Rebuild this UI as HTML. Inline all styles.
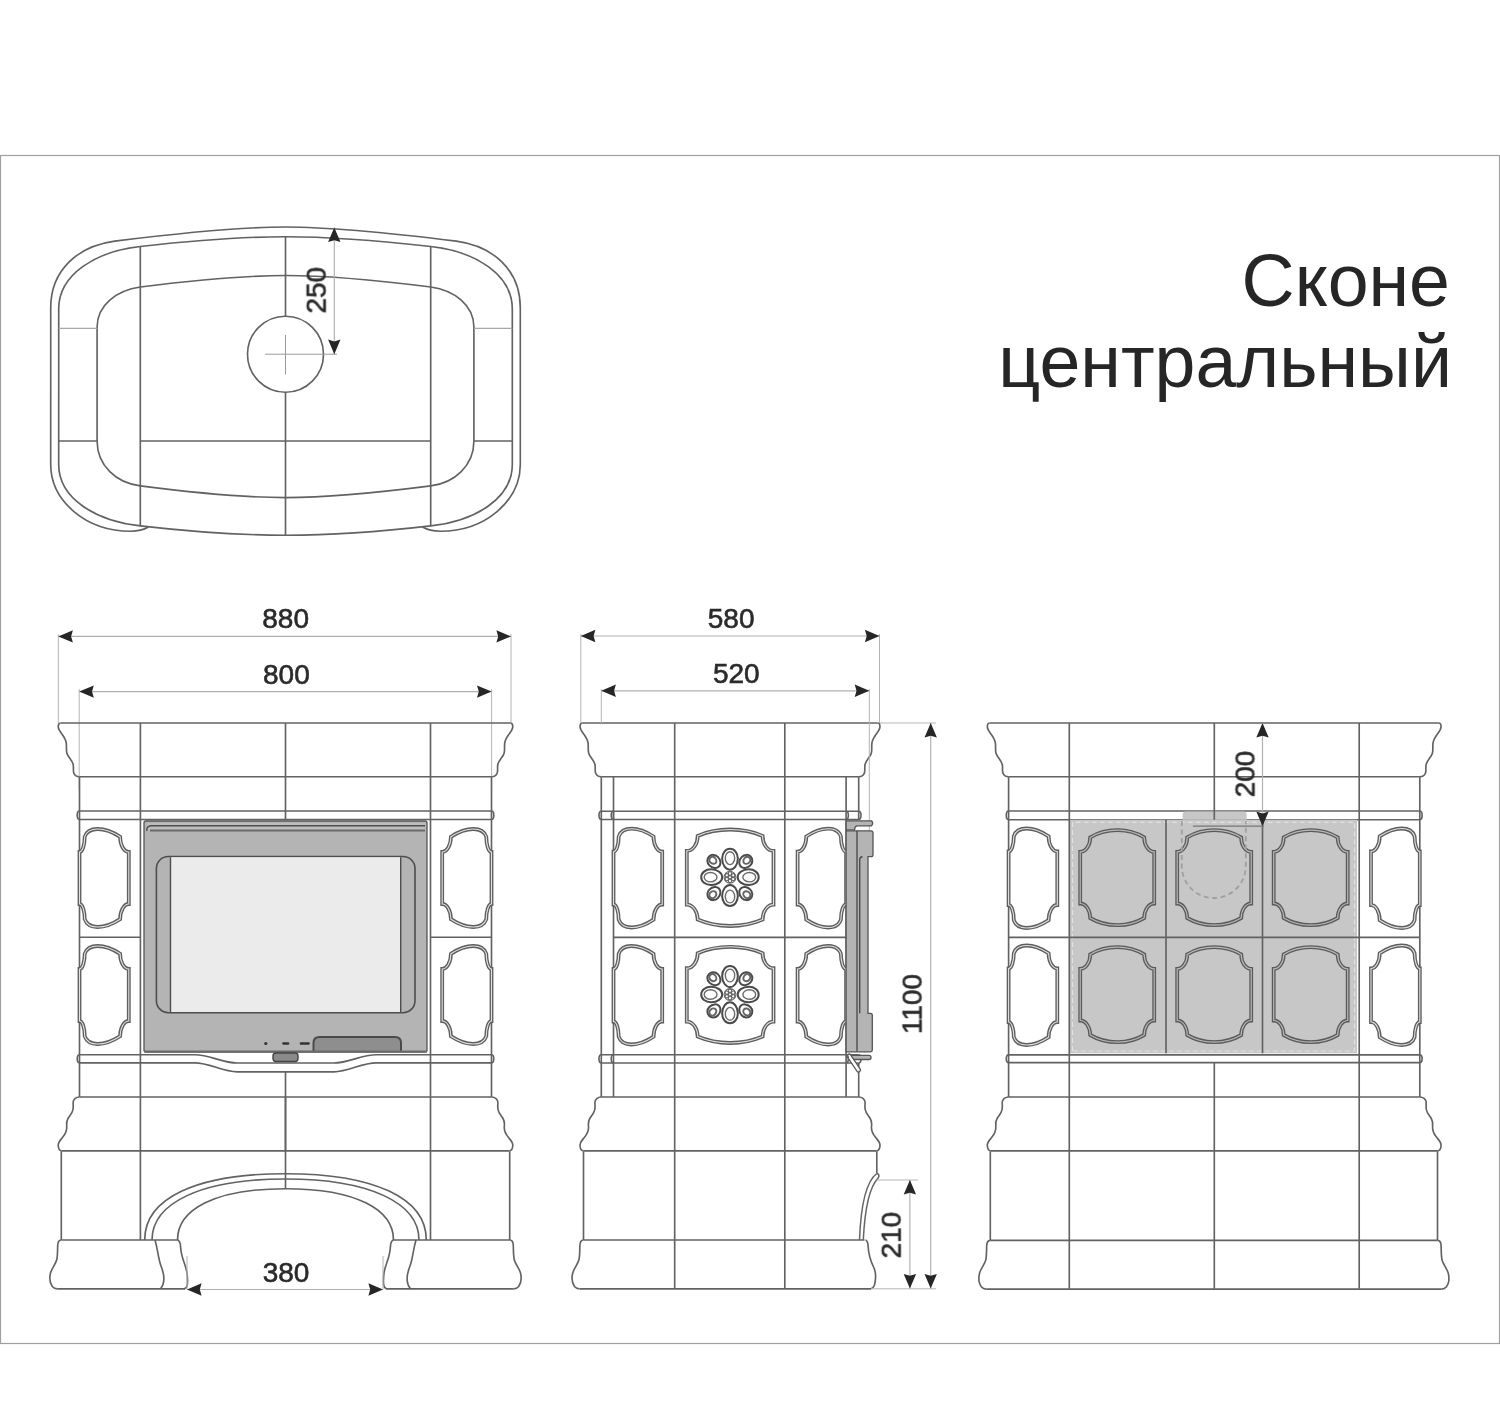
<!DOCTYPE html>
<html><head><meta charset="utf-8"><title>Сконе центральный</title>
<style>
html,body{margin:0;padding:0;background:#fff;}
body{width:1500px;height:1427px;overflow:hidden;}
svg{display:block;}
text{will-change:transform}
.m{stroke:#626262;stroke-width:1.65;fill:none;stroke-linejoin:round}
.m0{stroke:#666;stroke-width:1.5;fill:none}
.e{stroke:#b5b5b5;stroke-width:1;fill:none}
.d{stroke:#b0b0b0;stroke-width:1.15;fill:none}
.lg{stroke:#a8a8a8;stroke-width:1.1;fill:none}
.cr{stroke:#9a9a9a;stroke-width:1;fill:none}
.ah{fill:#262626}
.dt{font-family:"Liberation Sans",sans-serif;font-size:28px;fill:#2a2a2a;stroke:#2a2a2a;stroke-width:0.6}
.tt{font-family:"Liberation Sans",sans-serif;font-size:73.5px;fill:#262626}
.co{stroke:#5e5e5e;stroke-width:3.8;fill:none}
.ci{stroke:#e2e2e2;stroke-width:1.1;fill:none}
.cgo{stroke:#5a5a5a;stroke-width:3.8;fill:#c6c7c6}
.cgi{stroke:#b8b8b8;stroke-width:1.2;fill:none}
.door{fill:#b3b4b3;stroke:#555;stroke-width:1.3}
.door2{fill:#b3b4b3;stroke:#4d4d4d;stroke-width:1.6}
.glass{fill:#eaebea;stroke:none}
.dl{stroke:#4d4d4d;stroke-width:1.4;fill:none}
.dlb{stroke:#6a6a6a;stroke-width:2.2;fill:none}
.handle{fill:#8d8e8d;stroke:#4a4a4a;stroke-width:2}
.dash{stroke:#333;stroke-width:2.6;stroke-linecap:round}
.knob{fill:#8a8a8a;stroke:#444;stroke-width:1.4}
.po{stroke:#4a4a4a;stroke-width:2;fill:none}
.pi{stroke:#6a6a6a;stroke-width:1.4;fill:none}
.pi2{stroke:#666;stroke-width:2;fill:none}
.pc{stroke:#666;stroke-width:1.1;fill:none}
.hdl{stroke:#555;stroke-width:5;stroke-linecap:round;fill:none}
.hdl2{stroke:#fff;stroke-width:2.6;stroke-linecap:round;fill:none}
.gp{fill:#c6c7c6;stroke:none}
.gpd{fill:none;stroke:#e2e2e2;stroke-width:1.2;stroke-dasharray:5 3}
.dc{fill:none;stroke:#a0a0a0;stroke-width:1.8;stroke-dasharray:5 3.5}
.thin{stroke:#777;stroke-width:1.2}
</style></head>
<body>
<svg width="1500" height="1427" viewBox="0 0 1500 1427">
<rect x="0.5" y="155.5" width="1499" height="1188" fill="none" stroke="#a0a0a0" stroke-width="1.2"/>
<text x="1450" y="306" class="tt" text-anchor="end">Сконе</text>
<text x="1452" y="387.3" class="tt" text-anchor="end">центральный</text>
<path d="M 148.4,527 C 145,529 140,531.2 130.7,531.2 C 86,531.2 50.7,501 50.7,464.5 L 50.7,307.8 C 50.7,270 78,246 114.7,241.1 C 160,235.5 230,227 285.5,227 C 341,227 411,235.5 456.3,241.1 C 493,246 520.3,270 520.3,307.8 L 520.3,464.5 C 520.3,501 485,531.2 440.3,531.2 C 431,531.2 426,529 422.6,527" class="m" />
<path d="M 58.7,308.9 C 58.7,274.6 95.4,251.4 140.3,246.5 C 180,242 240,236.7 285.5,236.7 C 331,236.7 391,242 430.7,246.5 C 475.6,251.4 512.3,274.6 512.3,308.9 L 512.3,464.5 C 512.3,498.3 475.6,521 430.7,525.9 C 391,530.5 331,535.2 285.5,535.2 C 240,535.2 180,530.5 140.3,525.9 C 95.4,521 58.7,498.3 58.7,464.5 Z" class="m" />
<path d="M 97.1,327 C 97.1,305 116.5,290.4 140.3,287 C 180,282 240,275.5 285.5,275.5 C 331,275.5 391,282 430.7,287 C 454.5,290.4 473.9,305 473.9,327 L 473.9,441 C 473.9,465.7 454.5,482.9 430.7,485.9 C 391,491 331,497.6 285.5,497.6 C 240,497.6 180,491 140.3,485.9 C 116.5,482.9 97.1,465.7 97.1,441 Z" class="m" />
<line x1="140.3" y1="246.5" x2="140.3" y2="525.9" class="m"/>
<line x1="430.7" y1="246.5" x2="430.7" y2="525.9" class="m"/>
<line x1="285.5" y1="236.7" x2="285.5" y2="316.2" class="m"/>
<line x1="285.5" y1="392.2" x2="285.5" y2="535.2" class="m"/>
<line x1="58.7" y1="441" x2="97.1" y2="441" class="m"/>
<line x1="140.3" y1="441" x2="430.7" y2="441" class="m"/>
<line x1="473.9" y1="441" x2="512.3" y2="441" class="m"/>
<line x1="58.7" y1="328.4" x2="97.1" y2="328.4" class="lg"/>
<line x1="473.9" y1="328.4" x2="512.3" y2="328.4" class="lg"/>
<circle cx="285.5" cy="354.2" r="38" class="m"/>
<line x1="265" y1="354.2" x2="337" y2="354.2" class="cr"/>
<line x1="285.5" y1="335" x2="285.5" y2="374.4" class="cr"/>
<line x1="334.3" y1="227.5" x2="334.3" y2="354.2" class="d"/>
<polygon class="ah" points="334.3,227.5 328.1,242.1 334.3,240.3 340.5,242.1"/>
<polygon class="ah" points="334.3,354.2 328.1,339.6 334.3,341.4 340.5,339.6"/>
<text x="0" y="0" class="dt" text-anchor="middle" transform="translate(325.7,290.3) rotate(-90)">250</text>
<line x1="58.3" y1="634" x2="58.3" y2="723" class="e"/>
<line x1="511" y1="634" x2="511" y2="723" class="e"/>
<line x1="58.3" y1="636.4" x2="511" y2="636.4" class="d"/>
<polygon class="ah" points="58.3,636.4 72.9,630.2 71.1,636.4 72.9,642.6"/>
<polygon class="ah" points="511,636.4 496.4,630.2 498.2,636.4 496.4,642.6"/>
<text x="285.65" y="628.2" class="dt" text-anchor="middle">880</text>
<line x1="79.2" y1="689" x2="79.2" y2="790" class="e"/>
<line x1="491.6" y1="689" x2="491.6" y2="790" class="e"/>
<line x1="79.2" y1="691.6" x2="491.6" y2="691.6" class="d"/>
<polygon class="ah" points="79.2,691.6 93.8,685.4 92,691.6 93.8,697.8"/>
<polygon class="ah" points="491.6,691.6 477,685.4 478.8,691.6 477,697.8"/>
<text x="286.4" y="684" class="dt" text-anchor="middle">800</text>
<path d="M 60.4,723 Q 57.9,723.4 58.3,727.4 C 58.7,731.8 64.9,735.5 66.2,742.5 C 66.9,746.5 65.9,749.5 66.9,753.2 C 67.9,757 72.3,760 73.2,764.5 C 73.8,768 72.9,771 73.9,773.3 C 74.9,775.8 77.3,776.7 79.5,776.7 " class="m" />
<path d="M 510.6,723 Q 513.1,723.4 512.7,727.4 C 512.3,731.8 506.1,735.5 504.8,742.5 C 504.1,746.5 505.1,749.5 504.1,753.2 C 503.1,757 498.7,760 497.8,764.5 C 497.2,768 498.1,771 497.1,773.3 C 496.1,775.8 493.7,776.7 491.5,776.7 " class="m" />
<line x1="60.4" y1="723" x2="510.6" y2="723" class="m"/>
<line x1="79.5" y1="776.7" x2="491.5" y2="776.7" class="m"/>
<line x1="79.5" y1="811" x2="491.5" y2="811" class="m"/>
<line x1="79.5" y1="819.5" x2="491.5" y2="819.5" class="m"/>
<path d="M 79.5,811 C 76.42,811 76.42,819.5 79.5,819.5" class="m" />
<path d="M 491.5,811 C 494.58,811 494.58,819.5 491.5,819.5" class="m" />
<path d="M 79.5,1097 C 76,1097 73.1,1099.5 73.1,1102.5 C 73.1,1104.5 73.5,1106.5 73,1109.5 C 72.5,1113 69.5,1116 68,1118.5 C 66.5,1121 66.3,1123.5 66.7,1126.5 C 67,1130 65.5,1134 62.5,1137.5 C 60,1140.5 58,1142.5 58.2,1145.5 C 58.4,1148.5 60,1150.7 61.5,1150.9 " class="m" />
<path d="M 491.5,1097 C 495,1097 497.9,1099.5 497.9,1102.5 C 497.9,1104.5 497.5,1106.5 498,1109.5 C 498.5,1113 501.5,1116 503,1118.5 C 504.5,1121 504.7,1123.5 504.3,1126.5 C 504,1130 505.5,1134 508.5,1137.5 C 511,1140.5 513,1142.5 512.8,1145.5 C 512.6,1148.5 511,1150.7 509.5,1150.9 " class="m" />
<line x1="79.5" y1="1097" x2="491.5" y2="1097" class="m"/>
<line x1="61.5" y1="1150.9" x2="509.5" y2="1150.9" class="m"/>
<line x1="79.5" y1="776.7" x2="79.5" y2="1097" class="m"/>
<line x1="491.5" y1="776.7" x2="491.5" y2="1097" class="m"/>
<line x1="140.4" y1="723" x2="140.4" y2="1240" class="m"/>
<line x1="430.5" y1="723" x2="430.5" y2="1240" class="m"/>
<line x1="285.5" y1="723" x2="285.5" y2="819.5" class="m"/>
<line x1="285.5" y1="1071.8" x2="285.5" y2="1188.7" class="m"/>
<line x1="79.5" y1="937.2" x2="140.4" y2="937.2" class="m"/>
<line x1="430.5" y1="937.2" x2="491.5" y2="937.2" class="m"/>
<path d="M 79.5,1054.7 L 194.7,1054.7 C 210,1054.7 222,1063 237.3,1063 L 333.7,1063 C 349,1063 361,1054.7 376.3,1054.7 L 491.5,1054.7" class="m" />
<path d="M 79.5,1062.8 L 194.7,1062.8 C 210,1062.8 222,1071.8 237.3,1071.8 L 333.7,1071.8 C 349,1071.8 361,1062.8 376.3,1062.8 L 491.5,1062.8" class="m" />
<path d="M 79.5,1054.7 C 76.5,1054.7 76.5,1062.8 79.5,1062.8" class="m" />
<path d="M 491.5,1054.7 C 494.5,1054.7 494.5,1062.8 491.5,1062.8" class="m" />
<line x1="61.3" y1="1151.3" x2="61.3" y2="1240" class="m"/>
<line x1="509.7" y1="1151.3" x2="509.7" y2="1240" class="m"/>
<line x1="61.3" y1="1240" x2="178" y2="1240" class="m"/>
<line x1="393" y1="1240" x2="509.7" y2="1240" class="m"/>
<path d="M 61.3,1240 C 59.1,1240 57.8,1242 57.7,1245.5 C 57.5,1250 57.7,1255 56.8,1259.5 C 55.8,1264 51.8,1268 50.5,1273 C 49.3,1278 49.8,1283 52.3,1286.5 C 53.8,1288.3 55.3,1288.8 57.3,1288.8 " class="m" />
<path d="M 509.7,1240 C 511.9,1240 513.2,1242 513.3,1245.5 C 513.5,1250 513.3,1255 514.2,1259.5 C 515.2,1264 519.2,1268 520.5,1273 C 521.7,1278 521.2,1283 518.7,1286.5 C 517.2,1288.3 515.7,1288.8 513.7,1288.8 " class="m" />
<line x1="57.3" y1="1288.8" x2="185" y2="1288.8" class="m"/>
<line x1="386" y1="1288.8" x2="513.7" y2="1288.8" class="m"/>
<line x1="285.5" y1="1097" x2="285.5" y2="1151.3" class="m"/>
<path d="M 155,1240 C 158,1250 158,1258 161,1266 C 165,1276 164.5,1284 160.5,1288.7" class="m" />
<path d="M 416,1240 C 413,1250 413,1258 410,1266 C 406,1276 406.5,1284 410.5,1288.7" class="m" />
<path d="M 177.8,1240 Q 180.3,1241 180.6,1247 C 181,1258 186,1265 187,1273 C 188,1282 188,1288.7 184,1288.7" class="m" />
<path d="M 393.2,1240 Q 390.7,1241 390.4,1247 C 390,1258 385,1265 384,1273 C 383,1282 383,1288.7 387,1288.7" class="m" />
<path d="M 144.7,1240 C 144.7,1198 197,1173.7 285.5,1173.7 C 374,1173.7 426.3,1198 426.3,1240" class="m" />
<path d="M 152,1240 C 152,1203 201,1179 285.5,1179 C 370,1179 419,1203 419,1240" class="m" />
<path d="M 177.5,1240 C 177.5,1210 214,1188.7 285.5,1188.7 C 357,1188.7 393.5,1210 393.5,1240" class="m" />
<line x1="187" y1="1256" x2="187" y2="1289.5" class="e"/>
<line x1="383" y1="1256" x2="383" y2="1289.5" class="e"/>
<line x1="187" y1="1289.5" x2="383" y2="1289.5" class="d"/>
<polygon class="ah" points="187,1289.5 201.6,1283.3 199.8,1289.5 201.6,1295.7"/>
<polygon class="ah" points="383,1289.5 368.4,1283.3 370.2,1289.5 368.4,1295.7"/>
<text x="286" y="1281.8" class="dt" text-anchor="middle">380</text>
<path d="M 84.7,836.8 C 88.24,826.4 104.17,826.4 120.1,836.8 A 8.7,15.2 0 0 0 128.8,852 L 128.8,904 A 8.7,15.2 0 0 0 120.1,919.2 C 104.17,929.6 88.24,929.6 84.7,919.2 A 5.2,15.2 0 0 0 79.5,904 L 79.5,852 A 5.2,15.2 0 0 0 84.7,836.8 Z" class="co" />
<path d="M 84.7,836.8 C 88.24,826.4 104.17,826.4 120.1,836.8 A 8.7,15.2 0 0 0 128.8,852 L 128.8,904 A 8.7,15.2 0 0 0 120.1,919.2 C 104.17,929.6 88.24,929.6 84.7,919.2 A 5.2,15.2 0 0 0 79.5,904 L 79.5,852 A 5.2,15.2 0 0 0 84.7,836.8 Z" class="ci" />
<path d="M 450.9,836.8 C 466.83,826.4 482.76,826.4 486.3,836.8 A 5.2,15.2 0 0 0 491.5,852 L 491.5,904 A 5.2,15.2 0 0 0 486.3,919.2 C 482.76,929.6 466.83,929.6 450.9,919.2 A 8.7,15.2 0 0 0 442.2,904 L 442.2,852 A 8.7,15.2 0 0 0 450.9,836.8 Z" class="co" />
<path d="M 450.9,836.8 C 466.83,826.4 482.76,826.4 486.3,836.8 A 5.2,15.2 0 0 0 491.5,852 L 491.5,904 A 5.2,15.2 0 0 0 486.3,919.2 C 482.76,929.6 466.83,929.6 450.9,919.2 A 8.7,15.2 0 0 0 442.2,904 L 442.2,852 A 8.7,15.2 0 0 0 450.9,836.8 Z" class="ci" />
<path d="M 84.7,953.8 C 88.24,943.4 104.17,943.4 120.1,953.8 A 8.7,15.2 0 0 0 128.8,969 L 128.8,1021 A 8.7,15.2 0 0 0 120.1,1036.2 C 104.17,1046.6 88.24,1046.6 84.7,1036.2 A 5.2,15.2 0 0 0 79.5,1021 L 79.5,969 A 5.2,15.2 0 0 0 84.7,953.8 Z" class="co" />
<path d="M 84.7,953.8 C 88.24,943.4 104.17,943.4 120.1,953.8 A 8.7,15.2 0 0 0 128.8,969 L 128.8,1021 A 8.7,15.2 0 0 0 120.1,1036.2 C 104.17,1046.6 88.24,1046.6 84.7,1036.2 A 5.2,15.2 0 0 0 79.5,1021 L 79.5,969 A 5.2,15.2 0 0 0 84.7,953.8 Z" class="ci" />
<path d="M 450.9,953.8 C 466.83,943.4 482.76,943.4 486.3,953.8 A 5.2,15.2 0 0 0 491.5,969 L 491.5,1021 A 5.2,15.2 0 0 0 486.3,1036.2 C 482.76,1046.6 466.83,1046.6 450.9,1036.2 A 8.7,15.2 0 0 0 442.2,1021 L 442.2,969 A 8.7,15.2 0 0 0 450.9,953.8 Z" class="co" />
<path d="M 450.9,953.8 C 466.83,943.4 482.76,943.4 486.3,953.8 A 5.2,15.2 0 0 0 491.5,969 L 491.5,1021 A 5.2,15.2 0 0 0 486.3,1036.2 C 482.76,1046.6 466.83,1046.6 450.9,1036.2 A 8.7,15.2 0 0 0 442.2,1021 L 442.2,969 A 8.7,15.2 0 0 0 450.9,953.8 Z" class="ci" />
<rect x="144" y="821" width="283" height="231" rx="2" class="door"/>
<rect x="147" y="823" width="278" height="7.5" fill="#bcbdbc"/>
<line x1="150" y1="825.8" x2="425" y2="825.8" class="dl"/>
<line x1="150" y1="830.5" x2="425" y2="830.5" class="dlb"/>
<path d="M 150,826 Q 146,827 147,831" class="dl" />
<rect x="156.4" y="856.5" width="258.6" height="156.2" rx="12" class="door2"/>
<rect x="170.5" y="857.2" width="230.2" height="154.8" class="glass"/>
<line x1="170.5" y1="857.2" x2="170.5" y2="1012" class="dl"/>
<line x1="400.7" y1="857.2" x2="400.7" y2="1012" class="dl"/>
<path d="M 313.5,1052 L 313.5,1043 Q 313.5,1037 319.5,1037 L 395,1037 Q 401,1037 401,1043 L 401,1052" class="handle" />
<line x1="144" y1="1051.5" x2="427" y2="1051.5" class="dlb"/>
<circle cx="265.8" cy="1043.5" r="1.6" fill="#333"/>
<line x1="283.5" y1="1043.5" x2="288" y2="1043.5" class="dash"/>
<line x1="301" y1="1043.5" x2="308.5" y2="1043.5" class="dash"/>
<rect x="273" y="1053" width="25" height="8.5" rx="3" class="knob"/>
<path d="M 582.2,723 Q 579.7,723.4 580.1,727.4 C 580.5,731.8 586.7,735.5 588,742.5 C 588.7,746.5 587.7,749.5 588.7,753.2 C 589.7,757 594.1,760 595,764.5 C 595.6,768 594.7,771 595.7,773.3 C 596.7,775.8 599.1,776.7 601.3,776.7 " class="m" />
<path d="M 877.8,723 Q 880.3,723.4 879.9,727.4 C 879.5,731.8 873.3,735.5 872,742.5 C 871.3,746.5 872.3,749.5 871.3,753.2 C 870.3,757 865.9,760 865,764.5 C 864.4,768 865.3,771 864.3,773.3 C 863.3,775.8 860.9,776.7 858.7,776.7 " class="m" />
<line x1="582.2" y1="723" x2="877.8" y2="723" class="m"/>
<line x1="601.3" y1="776.7" x2="858.7" y2="776.7" class="m"/>
<line x1="601.3" y1="811.2" x2="858.7" y2="811.2" class="m"/>
<line x1="601.3" y1="819.5" x2="858.7" y2="819.5" class="m"/>
<path d="M 601.3,811.2 C 598.22,811.2 598.22,819.5 601.3,819.5" class="m" />
<path d="M 858.7,811.2 C 861.78,811.2 861.78,819.5 858.7,819.5" class="m" />
<line x1="613.5" y1="811.2" x2="613.5" y2="819.5" class="m0"/>
<path d="M 601.3,1097 C 597.8,1097 594.9,1099.5 594.9,1102.5 C 594.9,1104.5 595.3,1106.5 594.8,1109.5 C 594.3,1113 591.3,1116 589.8,1118.5 C 588.3,1121 588.1,1123.5 588.5,1126.5 C 588.8,1130 587.3,1134 584.3,1137.5 C 581.8,1140.5 579.8,1142.5 580,1145.5 C 580.2,1148.5 581.8,1150.7 583.3,1150.9 " class="m" />
<path d="M 858.7,1097 C 862.2,1097 865.1,1099.5 865.1,1102.5 C 865.1,1104.5 864.7,1106.5 865.2,1109.5 C 865.7,1113 868.7,1116 870.2,1118.5 C 871.7,1121 871.9,1123.5 871.5,1126.5 C 871.2,1130 872.7,1134 875.7,1137.5 C 878.2,1140.5 880.2,1142.5 880,1145.5 C 879.8,1148.5 878.2,1150.7 876.7,1150.9 " class="m" />
<line x1="601.3" y1="1097" x2="858.7" y2="1097" class="m"/>
<line x1="583.3" y1="1150.9" x2="876.7" y2="1150.9" class="m"/>
<line x1="601.3" y1="776.7" x2="601.3" y2="1097" class="m"/>
<line x1="613.5" y1="776.7" x2="613.5" y2="1097" class="m"/>
<line x1="846.1" y1="776.7" x2="846.1" y2="1097" class="m"/>
<line x1="858.7" y1="776.7" x2="858.7" y2="820" class="m"/>
<line x1="858.7" y1="1063" x2="858.7" y2="1097" class="m"/>
<line x1="601.3" y1="1054.7" x2="858.7" y2="1054.7" class="m"/>
<line x1="601.3" y1="1063" x2="858.7" y2="1063" class="m"/>
<path d="M 601.3,1054.7 C 598.22,1054.7 598.22,1063 601.3,1063" class="m" />
<path d="M 858.7,1054.7 C 861.78,1054.7 861.78,1063 858.7,1063" class="m" />
<line x1="674.7" y1="723" x2="674.7" y2="1288.5" class="m"/>
<line x1="784.8" y1="723" x2="784.8" y2="1288.5" class="m"/>
<line x1="613.5" y1="937.3" x2="846.1" y2="937.3" class="m"/>
<line x1="583.5" y1="1151.3" x2="583.5" y2="1240" class="m"/>
<line x1="876.8" y1="1151.3" x2="876.8" y2="1173.5" class="m"/>
<line x1="583.5" y1="1240" x2="864.5" y2="1240" class="m"/>
<path d="M 583.5,1240 C 581.3,1240 580,1242 579.9,1245.5 C 579.7,1250 579.9,1255 579,1259.5 C 578,1264 574,1268 572.7,1273 C 571.5,1278 572,1283 574.5,1286.5 C 576,1288.3 577.5,1288.8 579.5,1288.8 " class="m" />
<path d="M 865.5,1240 Q 867.5,1240.3 868,1245 C 868.5,1256 871,1262 874,1268 C 877,1275 875.5,1288.5 871,1288.5" class="m" />
<line x1="579.5" y1="1288.8" x2="871" y2="1288.8" class="m"/>
<path d="M 876.8,1173.5 C 868,1180 861,1200 859.5,1240 M 876.8,1173.5 Q 880.5,1174.5 878,1178.3 C 870.5,1186 865,1205 863.3,1240" class="m0" />
<line x1="580.8" y1="634" x2="580.8" y2="723" class="e"/>
<line x1="879.5" y1="634" x2="879.5" y2="723" class="e"/>
<line x1="580.8" y1="636" x2="879.5" y2="636" class="d"/>
<polygon class="ah" points="580.8,636 595.4,629.8 593.6,636 595.4,642.2"/>
<polygon class="ah" points="879.5,636 864.9,629.8 866.7,636 864.9,642.2"/>
<text x="731.15" y="627.8" class="dt" text-anchor="middle">580</text>
<line x1="869.3" y1="689" x2="869.3" y2="831" class="e"/>
<line x1="601.3" y1="689" x2="601.3" y2="723" class="e"/>
<line x1="601.3" y1="690.8" x2="869.3" y2="690.8" class="d"/>
<polygon class="ah" points="601.3,690.8 615.9,684.6 614.1,690.8 615.9,697"/>
<polygon class="ah" points="869.3,690.8 854.7,684.6 856.5,690.8 854.7,697"/>
<text x="736.3" y="683" class="dt" text-anchor="middle">520</text>
<line x1="880" y1="723" x2="936" y2="723" class="e"/>
<line x1="871" y1="1288.8" x2="936" y2="1288.8" class="e"/>
<line x1="930.7" y1="723" x2="930.7" y2="1288.5" class="d"/>
<polygon class="ah" points="930.7,723 924.5,737.6 930.7,735.8 936.9,737.6"/>
<polygon class="ah" points="930.7,1288.5 924.5,1273.9 930.7,1275.7 936.9,1273.9"/>
<text x="0" y="0" class="dt" text-anchor="middle" transform="translate(921.6,1004.1) rotate(-90)">1100</text>
<line x1="877" y1="1180" x2="918" y2="1180" class="e"/>
<line x1="909.9" y1="1180" x2="909.9" y2="1288.5" class="d"/>
<polygon class="ah" points="909.9,1180 903.7,1194.6 909.9,1192.8 916.1,1194.6"/>
<polygon class="ah" points="909.9,1288.5 903.7,1273.9 909.9,1275.7 916.1,1273.9"/>
<text x="0" y="0" class="dt" text-anchor="middle" transform="translate(900.7,1235.2) rotate(-90)">210</text>
<path d="M 618.7,836.5 C 622.18,826.1 637.84,826.1 653.5,836.5 A 8.7,15.2 0 0 0 662.2,851.7 L 662.2,904.5 A 8.7,15.2 0 0 0 653.5,919.7 C 637.84,930.1 622.18,930.1 618.7,919.7 A 5.2,15.2 0 0 0 613.5,904.5 L 613.5,851.7 A 5.2,15.2 0 0 0 618.7,836.5 Z" class="co" />
<path d="M 618.7,836.5 C 622.18,826.1 637.84,826.1 653.5,836.5 A 8.7,15.2 0 0 0 662.2,851.7 L 662.2,904.5 A 8.7,15.2 0 0 0 653.5,919.7 C 637.84,930.1 622.18,930.1 618.7,919.7 A 5.2,15.2 0 0 0 613.5,904.5 L 613.5,851.7 A 5.2,15.2 0 0 0 618.7,836.5 Z" class="ci" />
<path d="M 697.7,835.9 C 717.17,827.37 743.13,827.37 762.6,835.9 A 10.9,15 0 0 0 773.5,850.9 L 773.5,904.6 A 10.9,15 0 0 0 762.6,919.6 C 743.13,928.13 717.17,928.13 697.7,919.6 A 10.9,15 0 0 0 686.8,904.6 L 686.8,850.9 A 10.9,15 0 0 0 697.7,835.9 Z" class="co" />
<path d="M 697.7,835.9 C 717.17,827.37 743.13,827.37 762.6,835.9 A 10.9,15 0 0 0 773.5,850.9 L 773.5,904.6 A 10.9,15 0 0 0 762.6,919.6 C 743.13,928.13 717.17,928.13 697.7,919.6 A 10.9,15 0 0 0 686.8,904.6 L 686.8,850.9 A 10.9,15 0 0 0 697.7,835.9 Z" class="ci" />
<path d="M 806.3,836.5 C 821.87,826.1 837.44,826.1 840.9,836.5 A 5.2,15.2 0 0 0 846.1,851.7 L 846.1,904.5 A 5.2,15.2 0 0 0 840.9,919.7 C 837.44,930.1 821.87,930.1 806.3,919.7 A 8.7,15.2 0 0 0 797.6,904.5 L 797.6,851.7 A 8.7,15.2 0 0 0 806.3,836.5 Z" class="co" />
<path d="M 806.3,836.5 C 821.87,826.1 837.44,826.1 840.9,836.5 A 5.2,15.2 0 0 0 846.1,851.7 L 846.1,904.5 A 5.2,15.2 0 0 0 840.9,919.7 C 837.44,930.1 821.87,930.1 806.3,919.7 A 8.7,15.2 0 0 0 797.6,904.5 L 797.6,851.7 A 8.7,15.2 0 0 0 806.3,836.5 Z" class="ci" />
<path d="M 618.7,953.8 C 622.18,943.4 637.84,943.4 653.5,953.8 A 8.7,15.2 0 0 0 662.2,969 L 662.2,1021.5 A 8.7,15.2 0 0 0 653.5,1036.7 C 637.84,1047.1 622.18,1047.1 618.7,1036.7 A 5.2,15.2 0 0 0 613.5,1021.5 L 613.5,969 A 5.2,15.2 0 0 0 618.7,953.8 Z" class="co" />
<path d="M 618.7,953.8 C 622.18,943.4 637.84,943.4 653.5,953.8 A 8.7,15.2 0 0 0 662.2,969 L 662.2,1021.5 A 8.7,15.2 0 0 0 653.5,1036.7 C 637.84,1047.1 622.18,1047.1 618.7,1036.7 A 5.2,15.2 0 0 0 613.5,1021.5 L 613.5,969 A 5.2,15.2 0 0 0 618.7,953.8 Z" class="ci" />
<path d="M 697.7,953.2 C 717.17,944.67 743.13,944.67 762.6,953.2 A 10.9,15 0 0 0 773.5,968.2 L 773.5,1021.6 A 10.9,15 0 0 0 762.6,1036.6 C 743.13,1045.13 717.17,1045.13 697.7,1036.6 A 10.9,15 0 0 0 686.8,1021.6 L 686.8,968.2 A 10.9,15 0 0 0 697.7,953.2 Z" class="co" />
<path d="M 697.7,953.2 C 717.17,944.67 743.13,944.67 762.6,953.2 A 10.9,15 0 0 0 773.5,968.2 L 773.5,1021.6 A 10.9,15 0 0 0 762.6,1036.6 C 743.13,1045.13 717.17,1045.13 697.7,1036.6 A 10.9,15 0 0 0 686.8,1021.6 L 686.8,968.2 A 10.9,15 0 0 0 697.7,953.2 Z" class="ci" />
<path d="M 806.3,953.8 C 821.87,943.4 837.44,943.4 840.9,953.8 A 5.2,15.2 0 0 0 846.1,969 L 846.1,1021.5 A 5.2,15.2 0 0 0 840.9,1036.7 C 837.44,1047.1 821.87,1047.1 806.3,1036.7 A 8.7,15.2 0 0 0 797.6,1021.5 L 797.6,969 A 8.7,15.2 0 0 0 806.3,953.8 Z" class="co" />
<path d="M 806.3,953.8 C 821.87,943.4 837.44,943.4 840.9,953.8 A 5.2,15.2 0 0 0 846.1,969 L 846.1,1021.5 A 5.2,15.2 0 0 0 840.9,1036.7 C 837.44,1047.1 821.87,1047.1 806.3,1036.7 A 8.7,15.2 0 0 0 797.6,1021.5 L 797.6,969 A 8.7,15.2 0 0 0 806.3,953.8 Z" class="ci" />
<path d="M 0,-9.8 C 4.4,-9.8 7.85,-5.49 7.85,0 C 7.85,6.72 3.92,11.2 0,11.2 C -3.92,11.2 -7.85,6.72 -7.85,0 C -7.85,-5.49 -4.4,-9.8 0,-9.8 Z" class="po" transform="translate(730,858.6) rotate(0)"/>
<path d="M 0,-6.2 C 2.63,-6.2 4.7,-3.47 4.7,0 C 4.7,3.96 2.35,6.6 0,6.6 C -2.35,6.6 -4.7,3.96 -4.7,0 C -4.7,-3.47 -2.63,-6.2 0,-6.2 Z" class="pi" transform="translate(730,858) rotate(0)"/>
<path d="M 0,-9.8 C 4.4,-9.8 7.85,-5.49 7.85,0 C 7.85,6.72 3.92,11.2 0,11.2 C -3.92,11.2 -7.85,6.72 -7.85,0 C -7.85,-5.49 -4.4,-9.8 0,-9.8 Z" class="po" transform="translate(730,896.1) rotate(180)"/>
<path d="M 0,-6.2 C 2.63,-6.2 4.7,-3.47 4.7,0 C 4.7,3.96 2.35,6.6 0,6.6 C -2.35,6.6 -4.7,3.96 -4.7,0 C -4.7,-3.47 -2.63,-6.2 0,-6.2 Z" class="pi" transform="translate(730,896.7) rotate(180)"/>
<path d="M 0,-9.8 C 4.4,-9.8 7.85,-5.49 7.85,0 C 7.85,6.72 3.92,11.2 0,11.2 C -3.92,11.2 -7.85,6.72 -7.85,0 C -7.85,-5.49 -4.4,-9.8 0,-9.8 Z" class="po" transform="translate(711,877.2) rotate(-90)"/>
<path d="M 0,-6.2 C 2.63,-6.2 4.7,-3.47 4.7,0 C 4.7,3.96 2.35,6.6 0,6.6 C -2.35,6.6 -4.7,3.96 -4.7,0 C -4.7,-3.47 -2.63,-6.2 0,-6.2 Z" class="pi" transform="translate(710.4,877.2) rotate(-90)"/>
<path d="M 0,-9.8 C 4.4,-9.8 7.85,-5.49 7.85,0 C 7.85,6.72 3.92,11.2 0,11.2 C -3.92,11.2 -7.85,6.72 -7.85,0 C -7.85,-5.49 -4.4,-9.8 0,-9.8 Z" class="po" transform="translate(748.9,877.2) rotate(90)"/>
<path d="M 0,-6.2 C 2.63,-6.2 4.7,-3.47 4.7,0 C 4.7,3.96 2.35,6.6 0,6.6 C -2.35,6.6 -4.7,3.96 -4.7,0 C -4.7,-3.47 -2.63,-6.2 0,-6.2 Z" class="pi" transform="translate(749.5,877.2) rotate(90)"/>
<path d="M 0,-6.4 C 3.36,-6.4 6,-3.58 6,0 C 6,4.56 3,7.6 0,7.6 C -3,7.6 -6,4.56 -6,0 C -6,-3.58 -3.36,-6.4 0,-6.4 Z" class="po" transform="translate(713.6,861.1) rotate(-45)"/>
<path d="M 0,-3.4 C 1.79,-3.4 3.2,-1.9 3.2,0 C 3.2,2.52 1.6,4.2 0,4.2 C -1.6,4.2 -3.2,2.52 -3.2,0 C -3.2,-1.9 -1.79,-3.4 0,-3.4 Z" class="pi2" transform="translate(712.62,860.13) rotate(-45)"/>
<path d="M 0,-6.4 C 3.36,-6.4 6,-3.58 6,0 C 6,4.56 3,7.6 0,7.6 C -3,7.6 -6,4.56 -6,0 C -6,-3.58 -3.36,-6.4 0,-6.4 Z" class="po" transform="translate(746.1,861.1) rotate(45)"/>
<path d="M 0,-3.4 C 1.79,-3.4 3.2,-1.9 3.2,0 C 3.2,2.52 1.6,4.2 0,4.2 C -1.6,4.2 -3.2,2.52 -3.2,0 C -3.2,-1.9 -1.79,-3.4 0,-3.4 Z" class="pi2" transform="translate(747.07,860.13) rotate(45)"/>
<path d="M 0,-6.4 C 3.36,-6.4 6,-3.58 6,0 C 6,4.56 3,7.6 0,7.6 C -3,7.6 -6,4.56 -6,0 C -6,-3.58 -3.36,-6.4 0,-6.4 Z" class="po" transform="translate(713.6,893.9) rotate(-135)"/>
<path d="M 0,-3.4 C 1.79,-3.4 3.2,-1.9 3.2,0 C 3.2,2.52 1.6,4.2 0,4.2 C -1.6,4.2 -3.2,2.52 -3.2,0 C -3.2,-1.9 -1.79,-3.4 0,-3.4 Z" class="pi2" transform="translate(712.62,894.9) rotate(-135)"/>
<path d="M 0,-6.4 C 3.36,-6.4 6,-3.58 6,0 C 6,4.56 3,7.6 0,7.6 C -3,7.6 -6,4.56 -6,0 C -6,-3.58 -3.36,-6.4 0,-6.4 Z" class="po" transform="translate(746.1,893.9) rotate(135)"/>
<path d="M 0,-3.4 C 1.79,-3.4 3.2,-1.9 3.2,0 C 3.2,2.52 1.6,4.2 0,4.2 C -1.6,4.2 -3.2,2.52 -3.2,0 C -3.2,-1.9 -1.79,-3.4 0,-3.4 Z" class="pi2" transform="translate(747.07,894.9) rotate(135)"/>
<circle cx="730" cy="877.2" r="5.9" class="pc"/>
<circle cx="730" cy="880.9" r="1.7" class="pc"/>
<circle cx="726.8" cy="879.05" r="1.7" class="pc"/>
<circle cx="726.8" cy="875.35" r="1.7" class="pc"/>
<circle cx="730" cy="873.5" r="1.7" class="pc"/>
<circle cx="733.2" cy="875.35" r="1.7" class="pc"/>
<circle cx="733.2" cy="879.05" r="1.7" class="pc"/>
<circle cx="730" cy="877.2" r="1.6" class="pc"/>
<path d="M 0,-9.8 C 4.4,-9.8 7.85,-5.49 7.85,0 C 7.85,6.72 3.92,11.2 0,11.2 C -3.92,11.2 -7.85,6.72 -7.85,0 C -7.85,-5.49 -4.4,-9.8 0,-9.8 Z" class="po" transform="translate(730,975.9) rotate(0)"/>
<path d="M 0,-6.2 C 2.63,-6.2 4.7,-3.47 4.7,0 C 4.7,3.96 2.35,6.6 0,6.6 C -2.35,6.6 -4.7,3.96 -4.7,0 C -4.7,-3.47 -2.63,-6.2 0,-6.2 Z" class="pi" transform="translate(730,975.3) rotate(0)"/>
<path d="M 0,-9.8 C 4.4,-9.8 7.85,-5.49 7.85,0 C 7.85,6.72 3.92,11.2 0,11.2 C -3.92,11.2 -7.85,6.72 -7.85,0 C -7.85,-5.49 -4.4,-9.8 0,-9.8 Z" class="po" transform="translate(730,1013.4) rotate(180)"/>
<path d="M 0,-6.2 C 2.63,-6.2 4.7,-3.47 4.7,0 C 4.7,3.96 2.35,6.6 0,6.6 C -2.35,6.6 -4.7,3.96 -4.7,0 C -4.7,-3.47 -2.63,-6.2 0,-6.2 Z" class="pi" transform="translate(730,1014) rotate(180)"/>
<path d="M 0,-9.8 C 4.4,-9.8 7.85,-5.49 7.85,0 C 7.85,6.72 3.92,11.2 0,11.2 C -3.92,11.2 -7.85,6.72 -7.85,0 C -7.85,-5.49 -4.4,-9.8 0,-9.8 Z" class="po" transform="translate(711,994.5) rotate(-90)"/>
<path d="M 0,-6.2 C 2.63,-6.2 4.7,-3.47 4.7,0 C 4.7,3.96 2.35,6.6 0,6.6 C -2.35,6.6 -4.7,3.96 -4.7,0 C -4.7,-3.47 -2.63,-6.2 0,-6.2 Z" class="pi" transform="translate(710.4,994.5) rotate(-90)"/>
<path d="M 0,-9.8 C 4.4,-9.8 7.85,-5.49 7.85,0 C 7.85,6.72 3.92,11.2 0,11.2 C -3.92,11.2 -7.85,6.72 -7.85,0 C -7.85,-5.49 -4.4,-9.8 0,-9.8 Z" class="po" transform="translate(748.9,994.5) rotate(90)"/>
<path d="M 0,-6.2 C 2.63,-6.2 4.7,-3.47 4.7,0 C 4.7,3.96 2.35,6.6 0,6.6 C -2.35,6.6 -4.7,3.96 -4.7,0 C -4.7,-3.47 -2.63,-6.2 0,-6.2 Z" class="pi" transform="translate(749.5,994.5) rotate(90)"/>
<path d="M 0,-6.4 C 3.36,-6.4 6,-3.58 6,0 C 6,4.56 3,7.6 0,7.6 C -3,7.6 -6,4.56 -6,0 C -6,-3.58 -3.36,-6.4 0,-6.4 Z" class="po" transform="translate(713.6,978.4) rotate(-45)"/>
<path d="M 0,-3.4 C 1.79,-3.4 3.2,-1.9 3.2,0 C 3.2,2.52 1.6,4.2 0,4.2 C -1.6,4.2 -3.2,2.52 -3.2,0 C -3.2,-1.9 -1.79,-3.4 0,-3.4 Z" class="pi2" transform="translate(712.62,977.43) rotate(-45)"/>
<path d="M 0,-6.4 C 3.36,-6.4 6,-3.58 6,0 C 6,4.56 3,7.6 0,7.6 C -3,7.6 -6,4.56 -6,0 C -6,-3.58 -3.36,-6.4 0,-6.4 Z" class="po" transform="translate(746.1,978.4) rotate(45)"/>
<path d="M 0,-3.4 C 1.79,-3.4 3.2,-1.9 3.2,0 C 3.2,2.52 1.6,4.2 0,4.2 C -1.6,4.2 -3.2,2.52 -3.2,0 C -3.2,-1.9 -1.79,-3.4 0,-3.4 Z" class="pi2" transform="translate(747.07,977.43) rotate(45)"/>
<path d="M 0,-6.4 C 3.36,-6.4 6,-3.58 6,0 C 6,4.56 3,7.6 0,7.6 C -3,7.6 -6,4.56 -6,0 C -6,-3.58 -3.36,-6.4 0,-6.4 Z" class="po" transform="translate(713.6,1011.2) rotate(-135)"/>
<path d="M 0,-3.4 C 1.79,-3.4 3.2,-1.9 3.2,0 C 3.2,2.52 1.6,4.2 0,4.2 C -1.6,4.2 -3.2,2.52 -3.2,0 C -3.2,-1.9 -1.79,-3.4 0,-3.4 Z" class="pi2" transform="translate(712.62,1012.2) rotate(-135)"/>
<path d="M 0,-6.4 C 3.36,-6.4 6,-3.58 6,0 C 6,4.56 3,7.6 0,7.6 C -3,7.6 -6,4.56 -6,0 C -6,-3.58 -3.36,-6.4 0,-6.4 Z" class="po" transform="translate(746.1,1011.2) rotate(135)"/>
<path d="M 0,-3.4 C 1.79,-3.4 3.2,-1.9 3.2,0 C 3.2,2.52 1.6,4.2 0,4.2 C -1.6,4.2 -3.2,2.52 -3.2,0 C -3.2,-1.9 -1.79,-3.4 0,-3.4 Z" class="pi2" transform="translate(747.07,1012.2) rotate(135)"/>
<circle cx="730" cy="994.5" r="5.9" class="pc"/>
<circle cx="730" cy="998.2" r="1.7" class="pc"/>
<circle cx="726.8" cy="996.35" r="1.7" class="pc"/>
<circle cx="726.8" cy="992.65" r="1.7" class="pc"/>
<circle cx="730" cy="990.8" r="1.7" class="pc"/>
<circle cx="733.2" cy="992.65" r="1.7" class="pc"/>
<circle cx="733.2" cy="996.35" r="1.7" class="pc"/>
<circle cx="730" cy="994.5" r="1.6" class="pc"/>
<path d="M 846.1,820.8 L 871.5,820.8 Q 873.8,823.3 871.5,825.8 L 857,825.8 Q 854.6,826.3 854.6,829.8 L 846.1,829.8 Z" class="door" />
<path d="M 846.1,830.8 L 871,830.8 Q 873,830.8 873,833 L 873,854.5 Q 873,856.7 871,856.7 L 868,856.7 L 868,1013.3 L 870.5,1013.3 Q 872.3,1013.3 872.3,1015 L 872.3,1050 Q 872.3,1051.8 870.5,1051.8 L 846.1,1051.8 Z" class="door" />
<line x1="857" y1="830.8" x2="857" y2="1051.8" class="dl"/>
<path d="M 859.7,1013.3 L 859.7,860 Q 859.7,856.7 862.5,856.7" class="dl" />
<rect x="848.5" y="1055.3" width="22.5" height="4.2" rx="2" class="door"/>
<path d="M 849,1056 L 858.5,1070" class="hdl" />
<path d="M 849,1056 L 858.5,1070" class="hdl2" />
<path d="M 613.5,811.2 C 610.5,811.2 610.5,819.5 613.5,819.5" class="m" />
<path d="M 846.1,811.2 C 849.1,811.2 849.1,819.5 846.1,819.5" class="m" />
<path d="M 613.5,1054.7 C 610.5,1054.7 610.5,1063 613.5,1063" class="m" />
<path d="M 846.1,1054.7 C 849.1,1054.7 849.1,1063 846.1,1063" class="m" />
<path d="M 989.5,723 Q 987,723.4 987.4,727.4 C 987.8,731.8 994,735.5 995.3,742.5 C 996,746.5 995,749.5 996,753.2 C 997,757 1001.4,760 1002.3,764.5 C 1002.9,768 1002,771 1003,773.3 C 1004,775.8 1006.4,776.7 1008.6,776.7 " class="m" />
<path d="M 1438.9,723 Q 1441.4,723.4 1441,727.4 C 1440.6,731.8 1434.4,735.5 1433.1,742.5 C 1432.4,746.5 1433.4,749.5 1432.4,753.2 C 1431.4,757 1427,760 1426.1,764.5 C 1425.5,768 1426.4,771 1425.4,773.3 C 1424.4,775.8 1422,776.7 1419.8,776.7 " class="m" />
<line x1="989.5" y1="723" x2="1438.9" y2="723" class="m"/>
<line x1="1008.6" y1="776.7" x2="1419.8" y2="776.7" class="m"/>
<line x1="1008.6" y1="811" x2="1419.8" y2="811" class="m"/>
<line x1="1008.6" y1="819.7" x2="1419.8" y2="819.7" class="m"/>
<path d="M 1008.6,811 C 1005.52,811 1005.52,819.7 1008.6,819.7" class="m" />
<path d="M 1419.8,811 C 1422.88,811 1422.88,819.7 1419.8,819.7" class="m" />
<path d="M 1008.6,1097 C 1005.1,1097 1002.2,1099.5 1002.2,1102.5 C 1002.2,1104.5 1002.6,1106.5 1002.1,1109.5 C 1001.6,1113 998.6,1116 997.1,1118.5 C 995.6,1121 995.4,1123.5 995.8,1126.5 C 996.1,1130 994.6,1134 991.6,1137.5 C 989.1,1140.5 987.1,1142.5 987.3,1145.5 C 987.5,1148.5 989.1,1150.7 990.6,1150.9 " class="m" />
<path d="M 1419.8,1097 C 1423.3,1097 1426.2,1099.5 1426.2,1102.5 C 1426.2,1104.5 1425.8,1106.5 1426.3,1109.5 C 1426.8,1113 1429.8,1116 1431.3,1118.5 C 1432.8,1121 1433,1123.5 1432.6,1126.5 C 1432.3,1130 1433.8,1134 1436.8,1137.5 C 1439.3,1140.5 1441.3,1142.5 1441.1,1145.5 C 1440.9,1148.5 1439.3,1150.7 1437.8,1150.9 " class="m" />
<line x1="1008.6" y1="1097" x2="1419.8" y2="1097" class="m"/>
<line x1="990.6" y1="1150.9" x2="1437.8" y2="1150.9" class="m"/>
<line x1="1008.6" y1="776.6" x2="1008.6" y2="1097" class="m"/>
<line x1="1419.8" y1="776.6" x2="1419.8" y2="1097" class="m"/>
<rect x="1070" y="819.7" width="287" height="233.6" class="gp"/>
<path d="M 1072.5,1051 L 1072.5,822.3 L 1354.5,822.3 L 1354.5,1051 Z" class="gpd"/>
<path d="M 1182.6,819.7 L 1182.6,815 Q 1182.6,811.5 1186,811.5 L 1243.3,811.5 Q 1246.7,811.5 1246.7,815 L 1246.7,819.7 Z" fill="#c6c7c6"/>
<line x1="1069.3" y1="723" x2="1069.3" y2="1288.7" class="m"/>
<line x1="1359.2" y1="723" x2="1359.2" y2="1288.7" class="m"/>
<line x1="1214.3" y1="723" x2="1214.3" y2="819.7" class="m"/>
<line x1="1166" y1="819.7" x2="1166" y2="1053.3" class="m"/>
<line x1="1262.5" y1="819.7" x2="1262.5" y2="1053.3" class="m"/>
<line x1="1214.3" y1="1063" x2="1214.3" y2="1288.7" class="m"/>
<line x1="1008.6" y1="937.3" x2="1419.8" y2="937.3" class="m"/>
<line x1="1008.6" y1="1054.8" x2="1419.8" y2="1054.8" class="m"/>
<line x1="1008.6" y1="1062.6" x2="1419.8" y2="1062.6" class="m"/>
<path d="M 1008.6,1054.8 C 1005.52,1054.8 1005.52,1062.6 1008.6,1062.6" class="m" />
<path d="M 1419.8,1054.8 C 1422.88,1054.8 1422.88,1062.6 1419.8,1062.6" class="m" />
<line x1="990.3" y1="1151.3" x2="990.3" y2="1240.3" class="m"/>
<line x1="1437.5" y1="1151.3" x2="1437.5" y2="1240.3" class="m"/>
<line x1="990.3" y1="1240.3" x2="1437.5" y2="1240.3" class="m"/>
<path d="M 990.3,1240.3 C 988.1,1240.3 986.8,1242.3 986.7,1245.8 C 986.5,1250.3 986.7,1255.3 985.8,1259.8 C 984.8,1264.3 980.8,1268.3 979.5,1273.3 C 978.3,1278.3 978.8,1283.3 981.3,1286.8 C 982.8,1288.6 984.3,1289.1 986.3,1289.1 " class="m" />
<path d="M 1437.5,1240.3 C 1439.7,1240.3 1441,1242.3 1441.1,1245.8 C 1441.3,1250.3 1441.1,1255.3 1442,1259.8 C 1443,1264.3 1447,1268.3 1448.3,1273.3 C 1449.5,1278.3 1449,1283.3 1446.5,1286.8 C 1445,1288.6 1443.5,1289.1 1441.5,1289.1 " class="m" />
<line x1="986.3" y1="1289.1" x2="1441.5" y2="1289.1" class="m"/>
<path d="M 1013.8,836.3 C 1017.28,825.9 1032.94,825.9 1048.6,836.3 A 8.7,15.2 0 0 0 1057.3,851.5 L 1057.3,905 A 8.7,15.2 0 0 0 1048.6,920.2 C 1032.94,930.6 1017.28,930.6 1013.8,920.2 A 5.2,15.2 0 0 0 1008.6,905 L 1008.6,851.5 A 5.2,15.2 0 0 0 1013.8,836.3 Z" class="co" />
<path d="M 1013.8,836.3 C 1017.28,825.9 1032.94,825.9 1048.6,836.3 A 8.7,15.2 0 0 0 1057.3,851.5 L 1057.3,905 A 8.7,15.2 0 0 0 1048.6,920.2 C 1032.94,930.6 1017.28,930.6 1013.8,920.2 A 5.2,15.2 0 0 0 1008.6,905 L 1008.6,851.5 A 5.2,15.2 0 0 0 1013.8,836.3 Z" class="ci" />
<path d="M 1379.7,836.3 C 1395.4,825.9 1411.11,825.9 1414.6,836.3 A 5.2,15.2 0 0 0 1419.8,851.5 L 1419.8,905 A 5.2,15.2 0 0 0 1414.6,920.2 C 1411.11,930.6 1395.4,930.6 1379.7,920.2 A 8.7,15.2 0 0 0 1371,905 L 1371,851.5 A 8.7,15.2 0 0 0 1379.7,836.3 Z" class="co" />
<path d="M 1379.7,836.3 C 1395.4,825.9 1411.11,825.9 1414.6,836.3 A 5.2,15.2 0 0 0 1419.8,851.5 L 1419.8,905 A 5.2,15.2 0 0 0 1414.6,920.2 C 1411.11,930.6 1395.4,930.6 1379.7,920.2 A 8.7,15.2 0 0 0 1371,905 L 1371,851.5 A 8.7,15.2 0 0 0 1379.7,836.3 Z" class="ci" />
<path d="M 1090.2,837.4 C 1106.4,827.8 1128,827.8 1144.2,837.4 A 10,14.5 0 0 0 1154.2,851.9 L 1154.2,903.5 A 10,14.5 0 0 0 1144.2,918 C 1128,927.6 1106.4,927.6 1090.2,918 A 10,14.5 0 0 0 1080.2,903.5 L 1080.2,851.9 A 10,14.5 0 0 0 1090.2,837.4 Z" class="cgo" />
<path d="M 1090.2,837.4 C 1106.4,827.8 1128,827.8 1144.2,837.4 A 10,14.5 0 0 0 1154.2,851.9 L 1154.2,903.5 A 10,14.5 0 0 0 1144.2,918 C 1128,927.6 1106.4,927.6 1090.2,918 A 10,14.5 0 0 0 1080.2,903.5 L 1080.2,851.9 A 10,14.5 0 0 0 1090.2,837.4 Z" class="cgi" />
<path d="M 1187.2,837.4 C 1203.4,827.8 1225,827.8 1241.2,837.4 A 10,14.5 0 0 0 1251.2,851.9 L 1251.2,903.5 A 10,14.5 0 0 0 1241.2,918 C 1225,927.6 1203.4,927.6 1187.2,918 A 10,14.5 0 0 0 1177.2,903.5 L 1177.2,851.9 A 10,14.5 0 0 0 1187.2,837.4 Z" class="cgo" />
<path d="M 1187.2,837.4 C 1203.4,827.8 1225,827.8 1241.2,837.4 A 10,14.5 0 0 0 1251.2,851.9 L 1251.2,903.5 A 10,14.5 0 0 0 1241.2,918 C 1225,927.6 1203.4,927.6 1187.2,918 A 10,14.5 0 0 0 1177.2,903.5 L 1177.2,851.9 A 10,14.5 0 0 0 1187.2,837.4 Z" class="cgi" />
<path d="M 1283.7,837.4 C 1299.9,827.8 1321.5,827.8 1337.7,837.4 A 10,14.5 0 0 0 1347.7,851.9 L 1347.7,903.5 A 10,14.5 0 0 0 1337.7,918 C 1321.5,927.6 1299.9,927.6 1283.7,918 A 10,14.5 0 0 0 1273.7,903.5 L 1273.7,851.9 A 10,14.5 0 0 0 1283.7,837.4 Z" class="cgo" />
<path d="M 1283.7,837.4 C 1299.9,827.8 1321.5,827.8 1337.7,837.4 A 10,14.5 0 0 0 1347.7,851.9 L 1347.7,903.5 A 10,14.5 0 0 0 1337.7,918 C 1321.5,927.6 1299.9,927.6 1283.7,918 A 10,14.5 0 0 0 1273.7,903.5 L 1273.7,851.9 A 10,14.5 0 0 0 1283.7,837.4 Z" class="cgi" />
<path d="M 1013.8,953.3 C 1017.28,942.9 1032.94,942.9 1048.6,953.3 A 8.7,15.2 0 0 0 1057.3,968.5 L 1057.3,1022 A 8.7,15.2 0 0 0 1048.6,1037.2 C 1032.94,1047.6 1017.28,1047.6 1013.8,1037.2 A 5.2,15.2 0 0 0 1008.6,1022 L 1008.6,968.5 A 5.2,15.2 0 0 0 1013.8,953.3 Z" class="co" />
<path d="M 1013.8,953.3 C 1017.28,942.9 1032.94,942.9 1048.6,953.3 A 8.7,15.2 0 0 0 1057.3,968.5 L 1057.3,1022 A 8.7,15.2 0 0 0 1048.6,1037.2 C 1032.94,1047.6 1017.28,1047.6 1013.8,1037.2 A 5.2,15.2 0 0 0 1008.6,1022 L 1008.6,968.5 A 5.2,15.2 0 0 0 1013.8,953.3 Z" class="ci" />
<path d="M 1379.7,953.3 C 1395.4,942.9 1411.11,942.9 1414.6,953.3 A 5.2,15.2 0 0 0 1419.8,968.5 L 1419.8,1022 A 5.2,15.2 0 0 0 1414.6,1037.2 C 1411.11,1047.6 1395.4,1047.6 1379.7,1037.2 A 8.7,15.2 0 0 0 1371,1022 L 1371,968.5 A 8.7,15.2 0 0 0 1379.7,953.3 Z" class="co" />
<path d="M 1379.7,953.3 C 1395.4,942.9 1411.11,942.9 1414.6,953.3 A 5.2,15.2 0 0 0 1419.8,968.5 L 1419.8,1022 A 5.2,15.2 0 0 0 1414.6,1037.2 C 1411.11,1047.6 1395.4,1047.6 1379.7,1037.2 A 8.7,15.2 0 0 0 1371,1022 L 1371,968.5 A 8.7,15.2 0 0 0 1379.7,953.3 Z" class="ci" />
<path d="M 1090.2,954.4 C 1106.4,944.8 1128,944.8 1144.2,954.4 A 10,14.5 0 0 0 1154.2,968.9 L 1154.2,1020.5 A 10,14.5 0 0 0 1144.2,1035 C 1128,1044.6 1106.4,1044.6 1090.2,1035 A 10,14.5 0 0 0 1080.2,1020.5 L 1080.2,968.9 A 10,14.5 0 0 0 1090.2,954.4 Z" class="cgo" />
<path d="M 1090.2,954.4 C 1106.4,944.8 1128,944.8 1144.2,954.4 A 10,14.5 0 0 0 1154.2,968.9 L 1154.2,1020.5 A 10,14.5 0 0 0 1144.2,1035 C 1128,1044.6 1106.4,1044.6 1090.2,1035 A 10,14.5 0 0 0 1080.2,1020.5 L 1080.2,968.9 A 10,14.5 0 0 0 1090.2,954.4 Z" class="cgi" />
<path d="M 1187.2,954.4 C 1203.4,944.8 1225,944.8 1241.2,954.4 A 10,14.5 0 0 0 1251.2,968.9 L 1251.2,1020.5 A 10,14.5 0 0 0 1241.2,1035 C 1225,1044.6 1203.4,1044.6 1187.2,1035 A 10,14.5 0 0 0 1177.2,1020.5 L 1177.2,968.9 A 10,14.5 0 0 0 1187.2,954.4 Z" class="cgo" />
<path d="M 1187.2,954.4 C 1203.4,944.8 1225,944.8 1241.2,954.4 A 10,14.5 0 0 0 1251.2,968.9 L 1251.2,1020.5 A 10,14.5 0 0 0 1241.2,1035 C 1225,1044.6 1203.4,1044.6 1187.2,1035 A 10,14.5 0 0 0 1177.2,1020.5 L 1177.2,968.9 A 10,14.5 0 0 0 1187.2,954.4 Z" class="cgi" />
<path d="M 1283.7,954.4 C 1299.9,944.8 1321.5,944.8 1337.7,954.4 A 10,14.5 0 0 0 1347.7,968.9 L 1347.7,1020.5 A 10,14.5 0 0 0 1337.7,1035 C 1321.5,1044.6 1299.9,1044.6 1283.7,1035 A 10,14.5 0 0 0 1273.7,1020.5 L 1273.7,968.9 A 10,14.5 0 0 0 1283.7,954.4 Z" class="cgo" />
<path d="M 1283.7,954.4 C 1299.9,944.8 1321.5,944.8 1337.7,954.4 A 10,14.5 0 0 0 1347.7,968.9 L 1347.7,1020.5 A 10,14.5 0 0 0 1337.7,1035 C 1321.5,1044.6 1299.9,1044.6 1283.7,1035 A 10,14.5 0 0 0 1273.7,1020.5 L 1273.7,968.9 A 10,14.5 0 0 0 1283.7,954.4 Z" class="cgi" />
<path d="M 1181.8,821 L 1181.8,866 A 32,32 0 0 0 1245.8,866 L 1245.8,821" class="dc"/>
<line x1="1193" y1="826.2" x2="1264" y2="826.2" class="thin"/>
<line x1="1262.5" y1="723" x2="1262.5" y2="826.2" class="d"/>
<polygon class="ah" points="1262.5,723 1256.3,737.6 1262.5,735.8 1268.7,737.6"/>
<polygon class="ah" points="1262.5,826.2 1256.3,811.6 1262.5,813.4 1268.7,811.6"/>
<text x="0" y="0" class="dt" text-anchor="middle" transform="translate(1254.5,774.1) rotate(-90)">200</text>
</svg>
</body></html>
